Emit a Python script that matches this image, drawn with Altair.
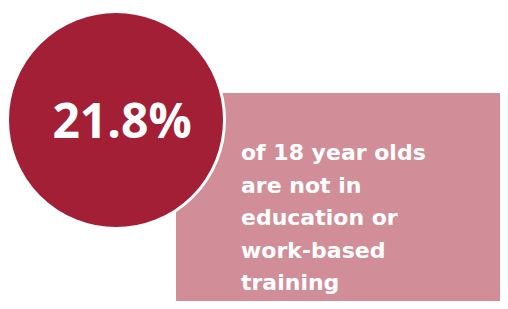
import altair as alt
import pandas as pd

# ---- data ----
stat_values = [21.8]
stat_labels = ["21.8%"]
caption_lines = ["of 18 year olds", "are not in", "education or", "work-based", "training"]

df = pd.DataFrame({
    "value": stat_values,
    "label": stat_labels,
    "caption": ["\n".join(caption_lines)],
})

DARK = "#a31f35"
PINK = "#d18e98"

base = alt.Chart(df)

rect = base.mark_rect(color=PINK, cornerRadius=9).encode(
    x=alt.value(168), x2=alt.value(499), y=alt.value(85), y2=alt.value(300)
)

# Vega circle symbol: radius = sqrt(size) / 2
circle = base.mark_circle(
    fill=DARK, opacity=1, fillOpacity=1, size=(2 * 108.5) ** 2,
    stroke="white", strokeWidth=3, strokeOpacity=1
).encode(x=alt.value(108), y=alt.value(112))

pct = base.mark_text(
    font="Open Sans", fontWeight="bold", fontSize=48, color="white",
    align="center", baseline="alphabetic"
).encode(x=alt.value(114), y=alt.value(130), text="label:N")

cap = base.mark_text(
    font="DejaVu Sans", fontWeight="bold", fontSize=22, color="white",
    align="left", baseline="alphabetic", lineBreak="\n", lineHeight=32.5
).encode(x=alt.value(233), y=alt.value(152), text="caption:N")

chart = alt.layer(rect, circle, pct, cap).properties(
    width=492, height=293, autosize="none", padding=0
).configure_view(stroke=None)

chart.save("out.html", embed_options={"renderer": "svg", "actions": False})
